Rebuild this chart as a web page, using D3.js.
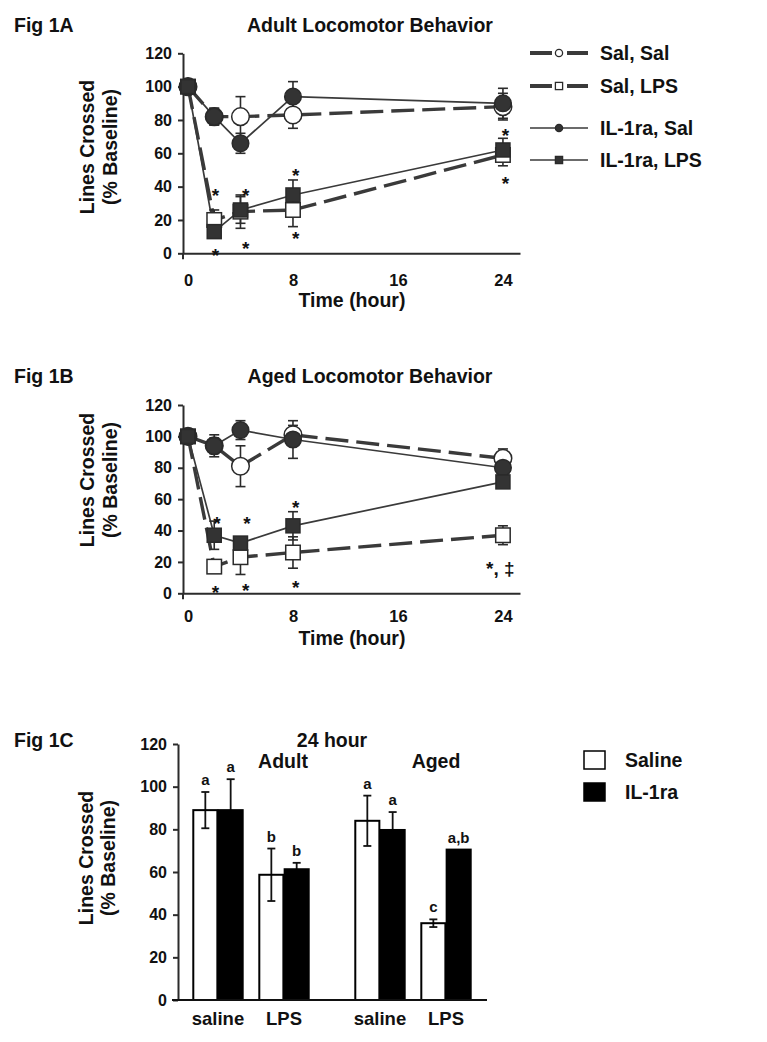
<!DOCTYPE html>
<html>
<head>
<meta charset="utf-8">
<script src="https://cdnjs.cloudflare.com/ajax/libs/d3/7.8.5/d3.min.js"></script>
<style>
  html, body { margin: 0; padding: 0; background: #fff; }
  svg text { font-family: "Liberation Sans", Arial, Helvetica, sans-serif; font-weight: bold; fill: #111; }
</style>
</head>
<body>
<svg id="chart" width="767" height="1042"></svg>
<script>
// ================= DATA =================
const hours = [0, 2, 4, 8, 24];
const hourTicks = [0, 8, 16, 24];
const yTicks = [0, 20, 40, 60, 80, 100, 120];
const seriesNames = ["Sal, Sal", "Sal, LPS", "IL-1ra, Sal", "IL-1ra, LPS"];

// Fig 1A - adult (mean, SEM)
const adultSalSal = [100, 82, 82, 83, 88];
const adultSalSalErr = [0, 5, 12, 8, 8];
const adultSalLPS = [100, 20, 25, 26, 59];
const adultSalLPSErr = [0, 6, 10, 10, 6.5];
const adultIlSal = [100, 82, 66, 94, 90];
const adultIlSalErr = [0, 5, 6, 9, 9];
const adultIlLPS = [100, 13, 26, 35, 62];
const adultIlLPSErr = [0, 3, 8, 9, 7];
// asterisk annotations (hour, value) for adult
const adultStarHours = [2.1, 2.1, 4.4, 4.4, 8.2, 8.2, 24.2, 24.2];
const adultStarVals  = [38, 2, 38, 6, 50, 12, 74, 45];
const adultStarText  = ["*", "*", "*", "*", "*", "*", "*", "*"];

// Fig 1B - aged (mean, SEM)
const agedSalSal = [100, 94, 81, 101, 86];
const agedSalSalErr = [0, 5, 13, 6, 6];
const agedSalLPS = [100, 17, 23, 26, 37];
const agedSalLPSErr = [0, 4, 11, 10, 6];
const agedIlSal = [100, 94, 104, 98, 80];
const agedIlSalErr = [0, 7, 6, 12, 5];
const agedIlLPS = [100, 37, 32, 43, 71];
const agedIlLPSErr = [0, 9, 4, 9, 3];
const agedStarHours = [2.2, 2.1, 4.5, 4.4, 8.2, 8.2, 23.8];
const agedStarVals  = [48, 4, 48, 5, 58, 7, 19];
const agedStarText  = ["*", "*", "*", "*", "*", "*", "*, \u2021"];

// Fig 1C - 24 hour bars
const groups = ["Adult", "Aged"];
const treatments = ["saline", "LPS"];
const barSeries = ["Saline", "IL-1ra"];
const salineVals = [89, 58.7, 84, 36];
const salineErr = [8.5, 12.3, 11.8, 1.8];
const il1raVals = [89, 61.3, 79.7, 70.5];
const il1raErr = [14.5, 3, 8.4, 0];
const salineLetters = ["a", "b", "a", "c"];
const il1raLetters = ["a", "b", "a", "a,b"];

// ================= DRAW =================
const svg = d3.select("#chart");
const INK = "#2b2b2b";
const LINE = "#3a3a3a";

function yLabel(cx1, cx2, cy) {
  svg.append("text").attr("transform", `translate(${cx1},${cy}) rotate(-90)`)
    .attr("text-anchor", "middle").attr("dy", "0.35em").style("font-size", "19.5px").text("Lines Crossed");
  svg.append("text").attr("transform", `translate(${cx2},${cy}) rotate(-90)`)
    .attr("text-anchor", "middle").attr("dy", "0.35em").style("font-size", "19.5px").text("(% Baseline)");
}

function styleAxis(g, fs) {
  g.select(".domain").attr("stroke", INK).attr("stroke-width", 2);
  g.selectAll(".tick line").attr("stroke", INK).attr("stroke-width", 2);
  g.selectAll(".tick text").style("font-size", fs).attr("fill", "#111");
}

function linePanel(o) {
  const x = d3.scaleLinear().domain([-0.38, 25.3]).range([183, 520]);
  const y = d3.scaleLinear().domain([0, 120]).range([o.y0, o.y120]);
  const g = svg.append("g");

  // titles
  svg.append("text").attr("x", 14).attr("y", o.titleY).style("font-size", "19.5px").text(o.fig);
  svg.append("text").attr("x", 370).attr("y", o.titleY).attr("text-anchor", "middle").style("font-size", "19.5px").text(o.title);

  // axes
  const ya = g.append("g").attr("transform", "translate(183,0)")
    .call(d3.axisLeft(y).tickValues(yTicks).tickSize(5).tickPadding(6).tickSizeOuter(0));
  styleAxis(ya, "16px");
  g.append("line").attr("x1", 183).attr("x2", 183).attr("y1", o.y0).attr("y2", o.y0 + 6)
    .attr("stroke", INK).attr("stroke-width", 2);
  const xa = g.append("g").attr("transform", `translate(0,${o.y0})`)
    .call(d3.axisBottom(x).tickValues(hourTicks).tickSize(0).tickPadding(o.xPad).tickSizeOuter(0));
  styleAxis(xa, "16.5px");
  svg.append("text").attr("x", 352).attr("y", o.xTitleY).attr("text-anchor", "middle").style("font-size", "19.5px").text("Time (hour)");
  yLabel(87, 110, o.yLabY);

  const series = [
    { vals: o.s[0], err: o.e[0], dashed: true, shape: "circle", filled: false },
    { vals: o.s[1], err: o.e[1], dashed: true, shape: "square", filled: false },
    { vals: o.s[2], err: o.e[2], dashed: false, shape: "circle", filled: true },
    { vals: o.s[3], err: o.e[3], dashed: false, shape: "square", filled: true }
  ];
  const line = d3.line().x(d => x(d.h)).y(d => y(d.v));
  series.forEach(s => {
    const pts = hours.map((h, i) => ({ h, v: s.vals[i], e: s.err[i] }));
    g.append("path").datum(pts).attr("d", line).attr("fill", "none")
      .attr("stroke", LINE).attr("stroke-width", s.dashed ? 3.4 : 1.7)
      .attr("stroke-dasharray", s.dashed ? "23,8" : null);
  });
  // error bars
  series.forEach(s => {
    const pts = hours.map((h, i) => ({ h, v: s.vals[i], e: s.err[i] })).filter(d => d.e > 0);
    const eb = g.append("g").attr("stroke", INK).attr("stroke-width", 1.6);
    eb.selectAll("line.v").data(pts).join("line").attr("class", "v")
      .attr("x1", d => x(d.h)).attr("x2", d => x(d.h))
      .attr("y1", d => y(d.v - d.e)).attr("y2", d => y(d.v + d.e));
    eb.selectAll("line.t").data(pts).join("line").attr("class", "t")
      .attr("x1", d => x(d.h) - 5).attr("x2", d => x(d.h) + 5)
      .attr("y1", d => y(d.v + d.e)).attr("y2", d => y(d.v + d.e));
    eb.selectAll("line.b").data(pts).join("line").attr("class", "b")
      .attr("x1", d => x(d.h) - 5).attr("x2", d => x(d.h) + 5)
      .attr("y1", d => y(d.v - d.e)).attr("y2", d => y(d.v - d.e));
  });
  // markers
  series.forEach(s => {
    const pts = hours.map((h, i) => ({ h, v: s.vals[i] }));
    const fill = s.filled ? "#333" : "#fff";
    if (s.shape === "circle") {
      g.selectAll(null).data(pts).join("circle")
        .attr("cx", d => x(d.h)).attr("cy", d => y(d.v)).attr("r", s.filled ? 8.3 : 8.8)
        .attr("fill", fill).attr("stroke", "#2a2a2a").attr("stroke-width", 1.5);
    } else {
      const sz = s.filled ? 14 : 14.5;
      g.selectAll(null).data(pts).join("rect")
        .attr("x", d => x(d.h) - sz / 2).attr("y", d => y(d.v) - sz / 2)
        .attr("width", sz).attr("height", sz)
        .attr("fill", fill).attr("stroke", "#2a2a2a").attr("stroke-width", 1.5);
    }
  });
  // asterisks
  g.selectAll(null).data(o.starH.map((h, i) => ({ h, v: o.starV[i], t: o.starT[i] }))).join("text")
    .attr("x", d => x(d.h)).attr("y", d => y(d.v)).attr("dy", "0.62em")
    .attr("text-anchor", "middle").style("font-size", "19px").text(d => d.t);
}

linePanel({
  fig: "Fig 1A", title: "Adult Locomotor Behavior", titleY: 32,
  y0: 253.3, y120: 53.3, xPad: 21, xTitleY: 307, yLabY: 147,
  s: [adultSalSal, adultSalLPS, adultIlSal, adultIlLPS],
  e: [adultSalSalErr, adultSalLPSErr, adultIlSalErr, adultIlLPSErr],
  starH: adultStarHours, starV: adultStarVals, starT: adultStarText
});
linePanel({
  fig: "Fig 1B", title: "Aged Locomotor Behavior", titleY: 383,
  y0: 593.3, y120: 405, xPad: 17, xTitleY: 645, yLabY: 480,
  s: [agedSalSal, agedSalLPS, agedIlSal, agedIlLPS],
  e: [agedSalSalErr, agedSalLPSErr, agedIlSalErr, agedIlLPSErr],
  starH: agedStarHours, starV: agedStarVals, starT: agedStarText
});

// legend for line charts
(function () {
  const rows = [53, 86, 128, 160];
  const x1 = 530, x2 = 588, xm = 559;
  seriesNames.forEach((name, i) => {
    const g = svg.append("g");
    const yy = rows[i];
    const dashed = i < 2;
    if (dashed) {
      g.append("line").attr("x1", x1).attr("x2", xm - 7).attr("y1", yy).attr("y2", yy).attr("stroke", LINE).attr("stroke-width", 4);
      g.append("line").attr("x1", xm + 8).attr("x2", x2).attr("y1", yy).attr("y2", yy).attr("stroke", LINE).attr("stroke-width", 4);
    } else {
      g.append("line").attr("x1", x1).attr("x2", x2).attr("y1", yy).attr("y2", yy).attr("stroke", LINE).attr("stroke-width", 1.7);
    }
    const fill = dashed ? "#fff" : "#333";
    if (i % 2 === 0) {
      g.append("circle").attr("cx", xm).attr("cy", yy).attr("r", 3.6).attr("fill", fill).attr("stroke", "#2a2a2a").attr("stroke-width", 1.3);
    } else {
      g.append("rect").attr("x", xm - 3.6).attr("y", yy - 3.6).attr("width", 7.2).attr("height", 7.2).attr("fill", fill).attr("stroke", "#2a2a2a").attr("stroke-width", 1.3);
    }
    g.append("text").attr("x", 600).attr("y", yy).attr("dy", "0.36em").style("font-size", "19.5px").text(name);
  });
})();

// ================= Fig 1C =================
(function () {
  const y = d3.scaleLinear().domain([0, 120]).range([1000, 744]);
  const xOuter = d3.scaleBand().domain(groups).range([170, 494]).padding(0);
  const xInner = d3.scaleBand().domain(treatments).range([0, xOuter.bandwidth()]).paddingInner(0).paddingOuter(0.227);
  const xSer = d3.scaleBand().domain(barSeries).range([-24.7, 24.7]).paddingInner(0.05);
  const g = svg.append("g");

  svg.append("text").attr("x", 14).attr("y", 747).style("font-size", "19.5px").text("Fig 1C");
  svg.append("text").attr("x", 332).attr("y", 747).attr("text-anchor", "middle").style("font-size", "19.5px").text("24 hour");
  svg.append("text").attr("x", 283).attr("y", 768).attr("text-anchor", "middle").style("font-size", "19.5px").text("Adult");
  svg.append("text").attr("x", 436).attr("y", 768).attr("text-anchor", "middle").style("font-size", "19.5px").text("Aged");

  const ya = g.append("g").attr("transform", "translate(178,0)")
    .call(d3.axisLeft(y).tickValues(yTicks).tickSize(5).tickPadding(6).tickSizeOuter(0));
  styleAxis(ya, "16px");
  yLabel(86, 108, 858);

  const rows = [];
  groups.forEach((gr, gi) => treatments.forEach((t, ti) => {
    const k = gi * 2 + ti;
    const cx = xOuter(gr) + xInner(t) + xInner.bandwidth() / 2;
    rows.push({ cx, ser: "Saline", v: salineVals[k], e: salineErr[k], lab: salineLetters[k] });
    rows.push({ cx, ser: "IL-1ra", v: il1raVals[k], e: il1raErr[k], lab: il1raLetters[k] });
  }));
  const eb = g.append("g").attr("stroke", "#111").attr("stroke-width", 1.8);
  const ebRows = rows.filter(d => d.e > 0);
  const ex = d => d.cx + xSer(d.ser) + xSer.bandwidth() / 2;
  eb.selectAll("line.v").data(ebRows).join("line").attr("class", "v")
    .attr("x1", ex).attr("x2", ex)
    .attr("y1", d => y(d.v - d.e)).attr("y2", d => y(d.v + d.e));
  eb.selectAll("line.t").data(ebRows).join("line").attr("class", "t")
    .attr("x1", d => ex(d) - 4).attr("x2", d => ex(d) + 4)
    .attr("y1", d => y(d.v + d.e)).attr("y2", d => y(d.v + d.e));
  eb.selectAll("line.b").data(ebRows.filter(d => d.ser === "Saline")).join("line").attr("class", "b")
    .attr("x1", d => ex(d) - 4).attr("x2", d => ex(d) + 4)
    .attr("y1", d => y(d.v - d.e)).attr("y2", d => y(d.v - d.e));

  g.selectAll("rect.bar").data(rows).join("rect").attr("class", "bar")
    .attr("x", d => d.cx + xSer(d.ser)).attr("width", xSer.bandwidth())
    .attr("y", d => y(d.v)).attr("height", d => y(0) - y(d.v))
    .attr("fill", d => d.ser === "Saline" ? "none" : "#000")
    .attr("stroke", "#000").attr("stroke-width", 2);

  g.selectAll("text.lab").data(rows).join("text").attr("class", "lab")
    .attr("x", ex)
    .attr("y", d => y(d.v + d.e) - 7)
    .attr("text-anchor", "middle").style("font-size", "15px").text(d => d.lab);

  g.append("line").attr("x1", 172).attr("x2", 487).attr("y1", y(0)).attr("y2", y(0)).attr("stroke", "#111").attr("stroke-width", 2);
  const cats = [];
  groups.forEach(gr => treatments.forEach(t => cats.push({ t, cx: xOuter(gr) + xInner(t) + xInner.bandwidth() / 2 })));
  g.selectAll("text.cat").data(cats).join("text").attr("class", "cat")
    .attr("x", d => d.cx).attr("y", 1025).attr("text-anchor", "middle").style("font-size", "18.5px").text(d => d.t);

  const lg = svg.append("g");
  barSeries.forEach((s, i) => {
    const yy = 760 + i * 32;
    lg.append("rect").attr("x", 584).attr("y", yy - 9).attr("width", 21).attr("height", 18)
      .attr("fill", i === 0 ? "#fff" : "#000").attr("stroke", "#000").attr("stroke-width", 1.5);
    lg.append("text").attr("x", 625).attr("y", yy).attr("dy", "0.36em").style("font-size", "19.5px").text(s);
  });
})();
</script>
</body>
</html>
